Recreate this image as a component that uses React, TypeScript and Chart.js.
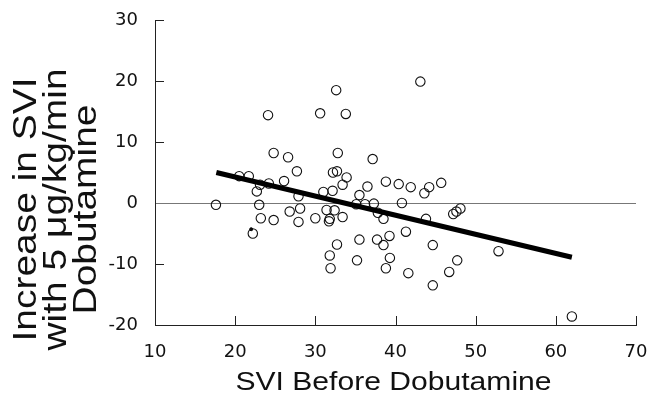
import React, { useEffect, useRef } from "react";
import { Chart, registerables } from "chart.js";

Chart.register(...registerables);

// SVI before dobutamine (x) and increase in SVI with 5 µg/kg/min (y)
const sviBefore = [
  17.6, 20.5, 21.7, 22.7, 23.1, 24.2, 24.1, 24.8, 26.1, 26.6, 27.7, 27.9,
  23.0, 23.2, 24.8, 22.2, 26.8, 28.1, 27.9, 30.6, 32.6, 33.8, 32.8, 32.2,
  32.7, 33.9, 33.4, 31.0, 32.15, 35.5, 36.5, 37.15, 38.8, 40.4, 41.9, 44.2,
  43.6, 45.7, 43.1, 40.8, 35.1, 36.2, 37.3, 30.0, 31.4, 32.4, 31.8, 31.7,
  33.4, 37.8, 38.5, 32.7, 31.8, 31.9, 35.5, 35.2, 37.7, 38.5, 39.25, 39.3,
  38.8, 41.3, 41.6, 43.8, 44.65, 44.65, 46.7, 47.7, 47.2, 47.6, 48.1, 52.85,
  62.0,
];
const sviIncrease = [
  -0.3, 4.4, 4.4, 1.9, 3.0, 3.2, 14.4, 8.2, 3.6, 7.5, 5.2, 1.1,
  -0.3, -2.5, -2.8, -5.0, -1.4, -0.9, -3.1, 14.7, 18.5, 14.6, 8.2, 5.0,
  5.2, 4.2, 3.0, 1.8, 2.0, 1.3, 2.7, 7.2, 3.5, 3.1, 2.6, 2.6,
  1.6, 3.3, 19.9, 0.0, -0.2, -0.2, -0.1, -2.5, -1.15, -1.2, -2.6, -3.0,
  -2.3, -1.6, -2.6, -6.8, -8.6, -10.7, -6.0, -9.4, -6.0, -6.9, -5.4, -9.0,
  -10.7, -4.7, -11.5, -2.6, -6.9, -13.5, -11.3, -9.4, -1.8, -1.4, -0.9, -7.9,
  -18.6,
];

// regression line end points
const fitX = [17.65, 62.0];
const fitY = [5.0, -8.9];

// stray dot in the figure
const dotX = [22.0];
const dotY = [-4.3];

const xTicks = [10, 20, 30, 40, 50, 60, 70];
const yTicks = [-20, -10, 0, 10, 20, 30];

const xTitle = "SVI Before Dobutamine";
const yTitle = ["Increase in SVI", "with 5 μg/kg/min", "Dobutamine"];

const TICK_FONT = "'DejaVu Sans', 'Liberation Sans', Arial, sans-serif";
const TITLE_FONT = "'Liberation Sans', Arial, Helvetica, sans-serif";

const inwardTicks = {
  id: "inwardTicks",
  afterDraw(chart: any) {
    const { ctx, chartArea, scales } = chart;
    ctx.save();
    ctx.strokeStyle = "#222";
    ctx.lineWidth = 1;
    const len = 9;
    for (const v of xTicks) {
      if (v === xTicks[0]) continue;
      const px = Math.round(scales.x.getPixelForValue(v)) + 0.5;
      ctx.beginPath();
      ctx.moveTo(px, chartArea.bottom);
      ctx.lineTo(px, chartArea.bottom - len);
      ctx.stroke();
    }
    for (const v of yTicks) {
      if (v === yTicks[0] || v === 0) continue;
      const py = Math.round(scales.y.getPixelForValue(v)) + 0.5;
      ctx.beginPath();
      ctx.moveTo(chartArea.left, py);
      ctx.lineTo(chartArea.left + len, py);
      ctx.stroke();
    }
    ctx.restore();
  },
};

// axis titles drawn as real text, slightly widened like the original typesetting
const axisTitles = {
  id: "axisTitles",
  afterDraw(chart: any) {
    const { ctx, chartArea, height } = chart;
    const stretch = 1.18;
    ctx.save();
    ctx.fillStyle = "#111";
    ctx.textAlign = "center";
    ctx.textBaseline = "alphabetic";
    // x title
    ctx.save();
    ctx.font = `25.5px ${TITLE_FONT}`;
    ctx.translate((chartArea.left + chartArea.right) / 2 - 2, height - 5);
    ctx.scale(stretch, 1);
    ctx.fillText(xTitle, 0, 0);
    ctx.restore();
    // y title (rotated)
    ctx.save();
    ctx.font = `33px ${TITLE_FONT}`;
    const cy = (chartArea.top + chartArea.bottom) / 2 + 37;
    ctx.translate(0, cy);
    ctx.rotate(-Math.PI / 2);
    ctx.scale(stretch, 1);
    yTitle.forEach((line, i) => {
      ctx.fillText(line, 0, 36 + i * 30);
    });
    ctx.restore();
    ctx.restore();
  },
};

export default function App() {
  const ref = useRef<HTMLCanvasElement | null>(null);

  useEffect(() => {
    document.body.style.margin = "0";
    const canvas = ref.current;
    if (!canvas) return;
    const chart = new Chart(canvas, {
      type: "scatter",
      data: {
        datasets: [
          {
            type: "line",
            data: fitX.map((x, i) => ({ x, y: fitY[i] })),
            borderColor: "#000",
            borderWidth: 5,
            pointRadius: 0,
            fill: false,
            order: 0,
          } as any,
          {
            data: sviBefore.map((x, i) => ({ x, y: sviIncrease[i] })),
            pointRadius: 4.7,
            pointBorderWidth: 1.1,
            borderColor: "#111",
            backgroundColor: "rgba(0,0,0,0)",
            order: 1,
          },
          {
            data: dotX.map((x, i) => ({ x, y: dotY[i] })),
            pointRadius: 1.5,
            borderColor: "#000",
            backgroundColor: "#000",
            order: 2,
          },
        ],
      },
      options: {
        responsive: false,
        animation: false,
        layout: { padding: { top: 20, right: 15, left: 0, bottom: 0 } },
        plugins: {
          legend: { display: false },
          tooltip: { enabled: false },
        },
        scales: {
          x: {
            type: "linear",
            min: 10,
            max: 70,
            afterFit: (s: any) => {
              s.height = 70;
              s.paddingLeft = 0;
              s.paddingRight = 0;
            },
            afterBuildTicks: (s: any) => {
              s.ticks = xTicks.map((v) => ({ value: v }));
            },
            grid: { display: false, drawTicks: false },
            border: { display: true, color: "#222", width: 1 },
            ticks: {
              color: "#111",
              padding: 17,
              font: { family: TICK_FONT, size: 18 },
            },
            title: { display: false },
          },
          y: {
            type: "linear",
            min: -20,
            max: 30,
            afterFit: (s: any) => {
              s.width = 155;
              s.paddingTop = 0;
              s.paddingBottom = 0;
            },
            afterBuildTicks: (s: any) => {
              s.ticks = yTicks.map((v) => ({ value: v }));
            },
            grid: {
              drawTicks: false,
              color: (c: any) => (c.tick && c.tick.value === 0 ? "#777" : "rgba(0,0,0,0)"),
              lineWidth: 1,
            },
            border: { display: true, color: "#222", width: 1 },
            ticks: {
              color: "#111",
              padding: 17,
              font: { family: TICK_FONT, size: 18 },
            },
            title: { display: false },
          },
        },
      },
      plugins: [inwardTicks, axisTitles],
    });
    return () => chart.destroy();
  }, []);

  return (
    <div style={{ width: 651, height: 395 }}>
      <canvas ref={ref} width={651} height={395} style={{ display: "block" }} />
    </div>
  );
}
